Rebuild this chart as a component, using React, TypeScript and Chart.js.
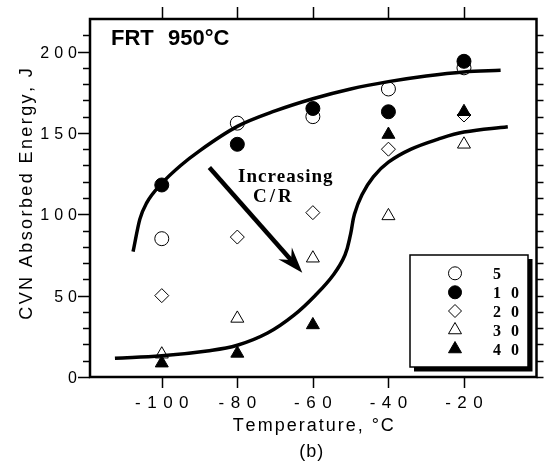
import React, { useEffect, useRef } from 'react';
import { Chart, registerables } from 'chart.js';

Chart.register(...registerables);

// ---- data ----
const temperatures = [-100, -80, -60, -40, -20];
const seriesLabels = ['5', '10', '20', '30', '40'];
const cr5 = [85, 156, 160, 177, 190];
const cr10 = [118, 143, 165, 163, 194];
const cr20 = [50, 86, 101, 140, 161];
const cr30 = [14, 36, 73, 99, 143];
const cr40 = [8.5, 14.5, 32, 149, 163];

const upperCurveT = [-107.6, -105.8, -104, -100, -95, -90, -80, -70, -60, -50, -40, -30, -20, -10.3];
const upperCurveE = [77, 97, 107, 119, 130, 139, 154, 163.5, 171, 177, 181.5, 185, 187.5, 188.5];
const lowerCurveT = [-112.4, -100, -88, -80, -72, -65, -59, -54.5, -51.5, -50, -49, -47, -44, -40, -34, -27, -20, -8.4];
const lowerCurveE = [11.5, 13, 16, 19.5, 27, 38, 51, 63, 75, 88, 100, 112, 123, 132, 140, 146, 150.5, 153.8];

const xTickValues = [-100, -80, -60, -40, -20];
const yTickValues = [0, 50, 100, 150, 200];
const xMin = -119;
const xMax = -0.8;
const yMin = 0;
const yMax = 220;

const xTitle = 'Temperature, °C';
const yTitle = 'CVN Absorbed Energy, J';
const subCaption = '(b)';
const panelTitleA = 'FRT';
const panelTitleB = '950°C';
const arrowText1 = 'Increasing';
const arrowText2 = 'C/R';
const arrowFrom = [-87.4, 128.8];
const arrowTo = [-62.8, 64];

const SANS = '"Liberation Sans", Arial, Helvetica, sans-serif';
const SERIF = '"Liberation Serif", "Times New Roman", Times, serif';

function pts(xs: number[], ys: number[]) {
  return xs.map((x, i) => ({ x, y: ys[i] }));
}

function drawSpaced(ctx: CanvasRenderingContext2D, text: string, x: number, y: number, spacing: number, align: string) {
  const chars = Array.from(text);
  const widths = chars.map((c) => ctx.measureText(c).width);
  const total = widths.reduce((a, b) => a + b, 0) + spacing * (chars.length - 1);
  let cx = align === 'center' ? x - total / 2 : align === 'right' ? x - total : x;
  ctx.textAlign = 'left';
  chars.forEach((c, i) => {
    ctx.fillText(c, cx, y);
    cx += widths[i] + spacing;
  });
}

type MarkerKind = 'circle' | 'circleFilled' | 'diamond' | 'triangle' | 'triangleFilled';
const markerKinds: MarkerKind[] = ['circle', 'circleFilled', 'diamond', 'triangle', 'triangleFilled'];

function drawMarker(ctx: CanvasRenderingContext2D, kind: MarkerKind, x: number, y: number, r: number) {
  ctx.beginPath();
  if (kind === 'circle' || kind === 'circleFilled') {
    ctx.arc(x, y, r, 0, Math.PI * 2);
  } else if (kind === 'diamond') {
    ctx.moveTo(x - r, y);
    ctx.lineTo(x, y - r);
    ctx.lineTo(x + r, y);
    ctx.lineTo(x, y + r);
    ctx.closePath();
  } else {
    ctx.moveTo(x, y - r);
    ctx.lineTo(x + r * 0.866, y + r * 0.5);
    ctx.lineTo(x - r * 0.866, y + r * 0.5);
    ctx.closePath();
  }
  const filled = kind === 'circleFilled' || kind === 'triangleFilled';
  ctx.fillStyle = filled ? '#000' : '#fff';
  ctx.fill();
  ctx.lineWidth = 1;
  ctx.strokeStyle = '#000';
  ctx.stroke();
}

const decorPlugin = {
  id: 'decor',
  afterDraw(chart: any) {
    const ctx: CanvasRenderingContext2D = chart.ctx;
    const xs = chart.scales.x;
    const ys = chart.scales.y;
    const { left, right, top, bottom } = chart.chartArea;
    ctx.save();
    ctx.strokeStyle = '#000';
    ctx.fillStyle = '#000';
    ctx.lineCap = 'butt';

    // ticks
    ctx.lineWidth = 1.5;
    ctx.beginPath();
    xTickValues.forEach((v) => {
      const px = Math.round(xs.getPixelForValue(v)) + 0.5;
      ctx.moveTo(px, bottom);
      ctx.lineTo(px, bottom + 11);
      ctx.moveTo(px, top);
      ctx.lineTo(px, top - 12);
    });
    (ys.ticks as any[]).forEach((t) => {
      const v = t.value;
      if (v < yMin || v > yMax - 5) return;
      const py = Math.round(ys.getPixelForValue(v)) + 0.5;
      const major = yTickValues.includes(v);
      ctx.moveTo(left - (major ? 12 : 7), py);
      ctx.lineTo(left, py);
      ctx.moveTo(right, py);
      ctx.lineTo(right + 7, py);
    });
    ctx.stroke();

    // frame
    ctx.lineWidth = 2.5;
    ctx.strokeRect(left, top, right - left, bottom - top);

    // tick labels
    ctx.fillStyle = '#000';
    ctx.textBaseline = 'alphabetic';
    ctx.font = `17px ${SANS}`;
    xTickValues.forEach((v) => {
      drawSpaced(ctx, String(v), xs.getPixelForValue(v), bottom + 31, 6.5, 'center');
    });
    ctx.font = `16px ${SANS}`;
    yTickValues.forEach((v) => {
      drawSpaced(ctx, String(v), left - 13, ys.getPixelForValue(v) + 6, 5, 'right');
    });

    // axis titles
    ctx.font = `18px ${SANS}`;
    drawSpaced(ctx, xTitle, (left + right) / 2, 431, 2, 'center');
    drawSpaced(ctx, subCaption, (left + right) / 2 - 2, 457, 1, 'center');
    ctx.save();
    ctx.translate(32, (top + bottom) / 2 - 4);
    ctx.rotate(-Math.PI / 2);
    drawSpaced(ctx, yTitle, 0, 0, 2.4, 'center');
    ctx.restore();

    // panel title
    ctx.font = `bold 22px ${SANS}`;
    ctx.textAlign = 'left';
    ctx.fillText(panelTitleA, 111, 45);
    ctx.fillText(panelTitleB, 168, 45);

    // arrow
    const sx = xs.getPixelForValue(arrowFrom[0]);
    const sy = ys.getPixelForValue(arrowFrom[1]);
    const ex = xs.getPixelForValue(arrowTo[0]);
    const ey = ys.getPixelForValue(arrowTo[1]);
    const len = Math.hypot(ex - sx, ey - sy);
    const dx = (ex - sx) / len;
    const dy = (ey - sy) / len;
    const nx = -dy;
    const ny = dx;
    const L = 26, W = 9, N = 17;
    ctx.lineWidth = 4.5;
    ctx.beginPath();
    ctx.moveTo(sx, sy);
    ctx.lineTo(ex - dx * N, ey - dy * N);
    ctx.stroke();
    ctx.beginPath();
    ctx.moveTo(ex, ey);
    ctx.lineTo(ex - dx * L + nx * W, ey - dy * L + ny * W);
    ctx.lineTo(ex - dx * N, ey - dy * N);
    ctx.lineTo(ex - dx * L - nx * W, ey - dy * L - ny * W);
    ctx.closePath();
    ctx.fill();

    ctx.font = `bold 19px ${SERIF}`;
    drawSpaced(ctx, arrowText1, 238, 182, 1, 'left');
    drawSpaced(ctx, arrowText2, 253, 202, 3, 'left');

    // legend box
    const bx = 410, by = 255, bw = 118, bh = 112;
    ctx.fillStyle = '#000';
    ctx.fillRect(bx + 4, by + 4, bw + 0.5, bh + 0.5);
    ctx.fillStyle = '#fff';
    ctx.fillRect(bx, by, bw, bh);
    ctx.lineWidth = 1.5;
    ctx.strokeStyle = '#000';
    ctx.strokeRect(bx, by, bw, bh);
    const rows = [273.3, 292.3, 311, 330, 349];
    seriesLabels.forEach((lab, i) => {
      drawMarker(ctx, markerKinds[i], 455, rows[i], markerKinds[i].startsWith('triangle') ? 7.5 : 6.5);
      ctx.fillStyle = '#000';
      ctx.font = `bold 16px ${SERIF}`;
      drawSpaced(ctx, lab, 493, rows[i] + 5.5, 10, 'left');
    });
    ctx.restore();
  },
};

export default function App() {
  const ref = useRef<HTMLCanvasElement | null>(null);
  useEffect(() => {
    const canvas = ref.current;
    if (!canvas) return;
    const curve = (data: any[], label: string, mode: string) => ({
      label,
      data,
      showLine: true,
      borderColor: '#000',
      borderWidth: 3.5,
      pointRadius: 0,
      cubicInterpolationMode: mode,
      tension: 0.4,
      fill: false,
    });
    const series = (data: number[], label: string, style: string, filled: boolean, r: number) => ({
      label,
      data: pts(temperatures, data),
      showLine: false,
      pointStyle: style,
      pointRadius: r,
      pointBorderWidth: 1,
      pointBorderColor: '#000',
      pointBackgroundColor: filled ? '#000' : '#fff',
    });
    const chart = new Chart(canvas, {
      type: 'scatter',
      data: {
        datasets: [
          curve(pts(upperCurveT, upperCurveE), 'upper', 'monotone'),
          curve(pts(lowerCurveT, lowerCurveE), 'lower', 'default'),
          series(cr40, seriesLabels[4], 'triangle', true, 7.5),
          series(cr10, seriesLabels[1], 'circle', true, 7),
          series(cr30, seriesLabels[3], 'triangle', false, 7.5),
          series(cr20, seriesLabels[2], 'rectRot', false, 7),
          series(cr5, seriesLabels[0], 'circle', false, 7),
        ] as any,
      },
      options: {
        animation: false,
        responsive: false,
        devicePixelRatio: 1,
        layout: { padding: { left: 0, top: 19, right: 6, bottom: 0 } },
        plugins: { legend: { display: false }, tooltip: { enabled: false } },
        scales: {
          x: {
            type: 'linear',
            min: xMin,
            max: xMax,
            grid: { display: false },
            border: { display: false },
            ticks: { display: false, stepSize: 20 },
            afterFit: (s: any) => {
              s.height = 88;
            },
          },
          y: {
            type: 'linear',
            min: yMin,
            max: yMax,
            grid: { display: false },
            border: { display: false },
            ticks: { display: false, stepSize: 10 },
            afterFit: (s: any) => {
              s.width = 90;
            },
          },
        },
      } as any,
      plugins: [decorPlugin],
    });
    return () => chart.destroy();
  }, []);
  return (
    <canvas
      ref={ref}
      width={545}
      height={465}
      style={{ position: 'absolute', left: 0, top: 0, width: 545, height: 465 }}
    />
  );
}
